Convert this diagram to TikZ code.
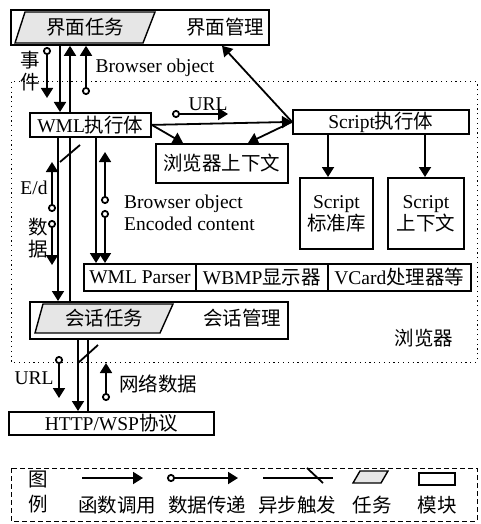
\documentclass[tikz,border=0pt]{standalone}
\usepackage{fontspec}
\setmainfont{Liberation Serif}
\newfontfamily\cjk{Noto Sans CJK SC}
\newcommand\zh[1]{{\cjk\fontsize{19.5}{22}\selectfont #1}}
\usetikzlibrary{arrows.meta}
\definecolor{taskgray}{HTML}{E6E6E6}
\tikzset{
  box/.style={draw, line width=1.8pt, inner sep=0pt, anchor=north west},
  fc/.style={line width=1.8pt, -{Triangle[length=10pt,width=12pt]}},
  dc/.style={line width=1.8pt, {Circle[open,length=8pt,width=8pt]}-{Triangle[length=10pt,width=12pt]}},
  ac/.style={line width=1.8pt},
  task/.style={draw, line width=1.4pt, fill=taskgray},
  dotline/.style={line width=1pt, dash pattern=on 1.2pt off 3.6pt},
  dashline/.style={line width=1pt, dash pattern=on 5pt off 3pt},
  lbl/.style={inner sep=0pt}
}
\begin{document}
\begin{tikzpicture}[x=1pt,y=-1pt,font=\fontsize{19.5}{22}\selectfont]
\useasboundingbox (0,0) rectangle (480,524);
% browser region
\draw[dotline] (11,82) rectangle (477,362);
% top box
\node[box, minimum width=258pt, minimum height=35pt] (jm) at (10,9) {};
\draw[task] (15,43) -- (25,12) -- (155,12) -- (143,43) -- cycle;
\node[lbl] (jmrw) at (85,27) {\zh{界面任务}};
\node[lbl] (jmgl) at (225,27) {\zh{界面管理}};
% boxes
\node[box, minimum width=121pt, minimum height=24pt] (wml) at (29,112) {WML\zh{执行体}};
\node[box, minimum width=132pt, minimum height=39pt] (bctx) at (155,143) {\zh{浏览器上下文}};
\node[box, minimum width=176pt, minimum height=24pt] (script) at (292,109) {Script\zh{执行体}};
\node[box, minimum width=73pt, minimum height=71pt, align=center] (slib) at (299,177) {Script\\\zh{标准库}};
\node[box, minimum width=76pt, minimum height=71pt, align=center] (sctx) at (387,177) {Script\\\zh{上下文}};
\node[box, minimum width=112pt, minimum height=27pt] (parser) at (83,263) {WML Parser};
\node[box, minimum width=132pt, minimum height=27pt] (wbmp) at (195,263) {WBMP\zh{显示器}};
\node[box, minimum width=143pt, minimum height=27pt] (vcard) at (327,263) {VCard\zh{处理器等}};
\node[box, minimum width=258pt, minimum height=37pt] (hh) at (29,301) {};
\draw[task] (35,333) -- (43,304) -- (173,304) -- (160,333) -- cycle;
\node[lbl] (hhrw) at (104,318) {\zh{会话任务}};
\node[lbl] (hhgl) at (242,318) {\zh{会话管理}};
\node[lbl] (llq) at (424,338) {\zh{浏览器}};
\node[box, minimum width=205pt, minimum height=23pt] (http) at (8,411) {HTTP/WSP\zh{协议}};
% top connectors
\draw[fc] (jm.south -| 60,0) -- (wml.north -| 60,0);
\draw[fc] (wml.north -| 70,0) -- (jm.south -| 70,0);
\coordinate (ev1) at (47,47); \coordinate (ev2) at (47,98);
\draw[dc] (ev1) -- (ev2);
\node[lbl, align=center] (evl) at (30,71) {\zh{事}\\\zh{件}};
\coordinate (bo1) at (86,95);
\draw[dc] (bo1) -- (jm.south -| 86,0);
\node[lbl] (bol) at (155,68) {Browser object};
% wml to right
\draw[fc] (wml.east) -- (script.west);
\coordinate (u1) at (172,114); \coordinate (u2) at (228,114);
\draw[dc] (u1) -- (u2);
\node[lbl] (ul) at (208,104) {URL};
\draw[fc] (wml.east) -- (bctx.north -| 183,0);
\draw[fc] (script.west) -- (bctx.north -| 248,0);
\draw[fc] (script.west) -- (jm.south -| 222,0);
\draw[fc] (script.south -| 328,0) -- (slib.north -| 328,0);
\draw[fc] (script.south -| 425,0) -- (sctx.north -| 425,0);
% wml down
\draw[fc] (wml.south -| 58,0) -- (hh.north -| 58,0);
\draw[ac] (wml.south -| 70,0) -- (hh.north -| 70,0);
\coordinate (sa1) at (60,162); \coordinate (sa2) at (80,145);
\draw[ac] (sa1) -- (sa2);
\coordinate (ed1) at (52,212); \coordinate (ed2) at (52,162);
\draw[dc] (ed1) -- (ed2);
\coordinate (ed3) at (52,220); \coordinate (ed4) at (52,265);
\draw[dc] (ed3) -- (ed4);
\node[lbl] (edl) at (34,188) {E/d};
\node[lbl, align=center] (sjl) at (38,238) {\zh{数}\\\zh{据}};
\draw[fc] (wml.south -| 96,0) -- (parser.north -| 96,0);
\coordinate (b1) at (105,204); \coordinate (b2) at (105,152);
\draw[dc] (b1) -- (b2);
\coordinate (b3) at (105,210);
\draw[dc] (b3) -- (parser.north -| 105,0);
\node[lbl, anchor=west, align=left] (bel) at (124,213) {Browser object\\Encoded content};
% bottom
\draw[fc] (hh.south -| 78,0) -- (http.north -| 78,0);
\draw[ac] (http.north -| 88,0) -- (hh.south -| 88,0);
\coordinate (sb1) at (78,363); \coordinate (sb2) at (98,345);
\draw[ac] (sb1) -- (sb2);
\coordinate (r1) at (59,356); \coordinate (r2) at (59,398);
\draw[dc] (r1) -- (r2);
\node[lbl] (rl) at (34,378) {URL};
\coordinate (n1) at (106,401); \coordinate (n2) at (106,363);
\draw[dc] (n1) -- (n2);
\node[lbl] (nl) at (158,384) {\zh{网络数据}};
% legend
\draw[dashline] (11,468) rectangle (477,521);
\node[lbl, align=center, font=\fontsize{19}{25}\selectfont] (lg) at (38,492) {\zh{图}\\\zh{例}};
\coordinate (l1a) at (82,478); \coordinate (l1b) at (143,478);
\draw[fc] (l1a) -- (l1b);
\coordinate (l2a) at (167,478); \coordinate (l2b) at (238,478);
\draw[dc] (l2a) -- (l2b);
\coordinate (l3a) at (263,478); \coordinate (l3b) at (333,478);
\draw[ac] (l3a) -- (l3b);
\coordinate (l3c) at (307,468); \coordinate (l3d) at (323,483);
\draw[ac] (l3c) -- (l3d);
\draw[task] (353,483) -- (360,471) -- (388,471) -- (381,483) -- cycle;
\node[draw, line width=1.8pt, minimum width=36pt, minimum height=12pt, inner sep=0pt] (lmod) at (437,479) {};
\node[lbl] (t1) at (117,505) {\zh{函数调用}};
\node[lbl] (t2) at (207,505) {\zh{数据传递}};
\node[lbl] (t3) at (297,505) {\zh{异步触发}};
\node[lbl] (t4) at (372,505) {\zh{任务}};
\node[lbl] (t5) at (437,505) {\zh{模块}};
\end{tikzpicture}
\end{document}
